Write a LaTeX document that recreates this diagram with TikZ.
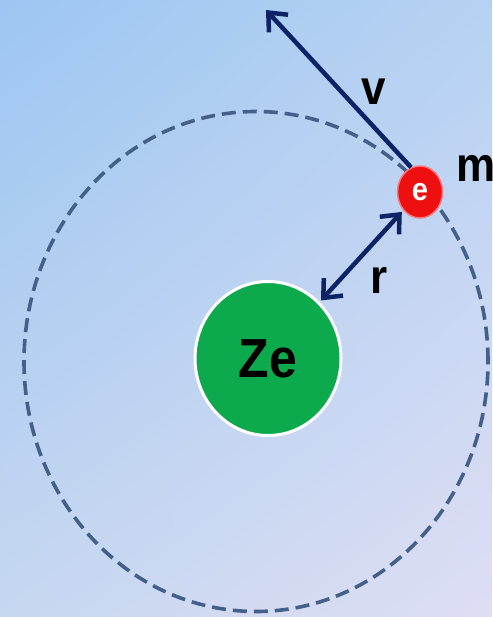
\documentclass[tikz,border=0pt]{standalone}
\usepackage{fontspec}
\setmainfont{Liberation Sans}
\usetikzlibrary{arrows.meta,shapes.geometric,shadings}
\definecolor{navy}{RGB}{12,36,102}
\definecolor{orbitc}{RGB}{68,96,136}
\definecolor{nucg}{RGB}{12,170,76}
\definecolor{elred}{RGB}{238,16,16}
\definecolor{halo}{RGB}{246,120,128}
\definecolor{bgTL}{RGB}{157,198,242}
\definecolor{bgTR}{RGB}{182,210,242}
\definecolor{bgBL}{RGB}{198,215,240}
\definecolor{bgBR}{RGB}{222,222,244}
\begin{document}
\begin{tikzpicture}[x=1pt,y=1pt,
  arr/.style={draw=navy, line width=4.5pt, line cap=butt},
  tipbarb/.style={-{Straight Barb[length=15pt,width=26pt]}},
  lbl/.style={inner sep=0pt, font=\bfseries\fontsize{44}{44}\selectfont, yscale=1.1, anchor=base}
]
\useasboundingbox (0,0) rectangle (492,-617);
\shade[upper left=bgTL, upper right=bgTR, lower left=bgBL, lower right=bgBR] (0,0) rectangle (492,-617);
% orbit
\draw[orbitc, line width=3.6pt, dash pattern=on 14pt off 7pt] (256,-361.5) ellipse (232 and 250);
% nucleus
\node[ellipse, fill=nucg, draw=white, line width=3pt, minimum width=146pt, minimum height=154pt, inner sep=0pt,
      font=\bfseries\fontsize{50}{50}\selectfont, text=black] (nuc) at (268,-358.5) {\scalebox{1}[1.1]{Ze}};
% electron
\node[ellipse, fill=elred, draw=halo, line width=1.5pt, minimum width=45pt, minimum height=52pt, inner sep=0pt,
      font=\bfseries\fontsize{29}{29}\selectfont, text=white] (el) at (420,-192) {\scalebox{1}[1.1]{e}};
% velocity tip
\coordinate (vtip) at (266,-10);
\draw[arr, tipbarb] (el.110) -- (vtip);
% radius arrow
\draw[arr, {Straight Barb[length=15pt,width=26pt]}-{Straight Barb[length=15pt,width=26pt]}, shorten <=2pt, shorten >=2pt] (nuc) -- (el);
% labels
\node[lbl] (lv) at (374,-105) {v};
\node[lbl] (lr) at (379,-293) {r};
\node[lbl, anchor=base west] (lm) at (456,-182) {m};
\end{tikzpicture}
\end{document}
